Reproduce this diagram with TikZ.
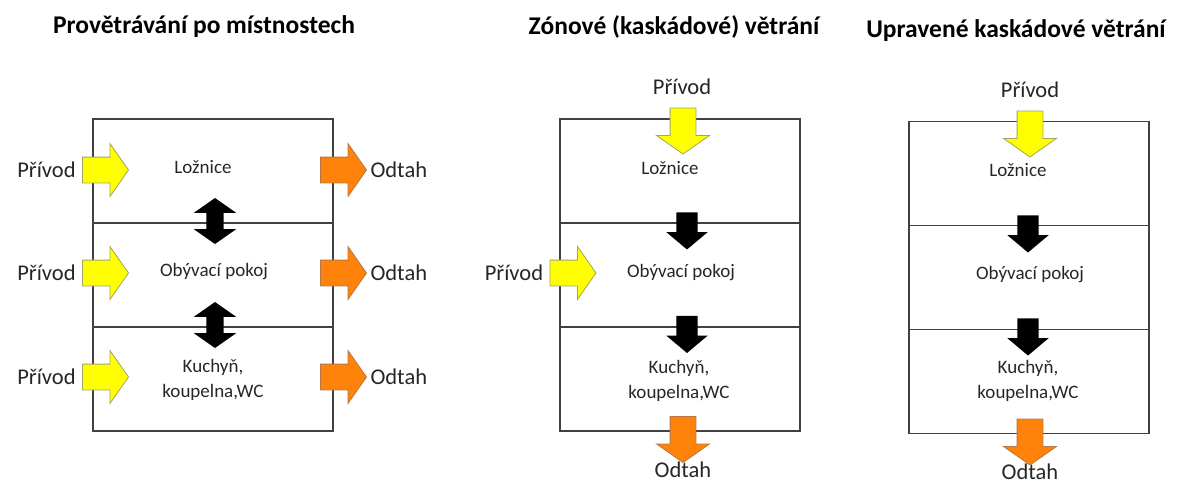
\documentclass[tikz,border=0pt]{standalone}
\usepackage{fontspec}
\setmainfont{Carlito}
\usetikzlibrary{shapes.arrows, positioning}

\definecolor{fresh}{RGB}{255,255,0}
\definecolor{freshline}{RGB}{160,165,100}
\definecolor{waste}{RGB}{255,130,10}
\definecolor{wasteline}{RGB}{180,120,70}
\definecolor{wall}{RGB}{65,65,65}

\tikzset{
  room/.style = {draw=wall, line width=1.5pt, minimum width=240pt,
    minimum height=104pt, inner sep=0pt, outer sep=0pt},
  roomtext/.style = {font=\fontsize{19}{25}\selectfont, align=center, text=black!85},
  airtext/.style = {font=\fontsize{22.5}{26}\selectfont, text=black!85},
  title/.style = {font=\bfseries\fontsize{25.5}{30}\selectfont},
  flow/.style = {single arrow, inner sep=0pt, text height=25pt, text depth=0pt,
    single arrow head extend=13.5pt, single arrow tip angle=110,
    minimum height=46pt, line width=0.8pt},
  inflow/.style = {flow, fill=fresh, draw=freshline},
  outflow/.style = {flow, fill=waste, draw=wasteline},
  pass/.style = {single arrow, fill=black, inner sep=0pt, text height=21pt,
    text depth=0pt, single arrow head extend=10pt, single arrow tip angle=100,
    minimum height=37pt, rotate=-90},
  swap/.style = {double arrow, fill=black, inner sep=0pt, text height=17pt,
    text depth=0pt, double arrow head extend=12.5pt, double arrow tip angle=110,
    minimum height=46pt, rotate=90}
}

\begin{document}
\begin{tikzpicture} [x=1pt, y=-1pt]
\useasboundingbox (0,0) rectangle (1179,483);

% Provetravani po mistnostech
\node (t1) [title] at (204,27) {Provětrávání po místnostech};

\node (l1) [room] at (213,171) {};
\node (l2) [room, below = 0pt of l1] {};
\node (l3) [room, below = 0pt of l2] {};

\node (lt1) [roomtext] at (203,167) {Ložnice};
\node (lt2) [roomtext] at (214,272) {Obývací pokoj};
\node (lt3) [roomtext] at (213,380) {Kuchyň,\\koupelna,WC};

\node (li1) [inflow] at (101,170) {};
\node (li2) [inflow] at (101,273) {};
\node (li3) [inflow] at (101,377) {};
\node (lp1) [airtext, left = 3pt of li1] {Přívod};
\node (lp2) [airtext, left = 3pt of li2] {Přívod};
\node (lp3) [airtext, left = 3pt of li3] {Přívod};

\node (lo1) [outflow] at (339,170) {};
\node (lo2) [outflow] at (339,273) {};
\node (lo3) [outflow] at (339,377) {};
\node (lx1) [airtext, right = 0pt of lo1] {Odtah};
\node (lx2) [airtext, right = 0pt of lo2] {Odtah};
\node (lx3) [airtext, right = 0pt of lo3] {Odtah};

\node (ls1) [swap] at (215,221) {};
\node (ls2) [swap] at (215,325) {};

% Zonove (kaskadove) vetrani
\node (t2) [title] at (674,27) {Zónové (kaskádové) větrání};

\node (m1) [room] at (680,171) {};
\node (m2) [room, below = 0pt of m1] {};
\node (m3) [room, below = 0pt of m2] {};

\node (mt1) [roomtext] at (670,168) {Ložnice};
\node (mt2) [roomtext] at (681,273) {Obývací pokoj};
\node (mt3) [roomtext] at (679,381) {Kuchyň,\\koupelna,WC};

\node (mp0) [airtext] at (682,87) {Přívod};
\node (mi0) [inflow, rotate=-90] at (683,126.5) {};
\node (mi2) [inflow] at (568.5,273) {};
\node (mp2) [airtext, left = 3pt of mi2] {Přívod};

\node (ms1) [pass] at (687,226.5) {};
\node (ms2) [pass] at (687,330) {};

\node (mo3) [outflow, rotate=-90] at (683,435) {};
\node (mx3) [airtext] at (683,470) {Odtah};

% Upravene kaskadove vetrani
\node (t3) [title] at (1016,31) {Upravené kaskádové větrání};

\node (r1) [room] at (1029,173.5) {};
\node (r2) [room, below = 0pt of r1] {};
\node (r3) [room, below = 0pt of r2] {};

\node (rt1) [roomtext] at (1018,170) {Ložnice};
\node (rt2) [roomtext] at (1030,275) {Obývací pokoj};
\node (rt3) [roomtext] at (1028,381) {Kuchyň,\\koupelna,WC};

\node (rp0) [airtext] at (1030,90) {Přívod};
\node (ri0) [inflow, rotate=-90] at (1030,129.5) {};

\node (rs1) [pass] at (1028,229.5) {};
\node (rs2) [pass] at (1028,332.5) {};

\node (ro3) [outflow, rotate=-90] at (1030,437.5) {};
\node (rx3) [airtext] at (1030,472) {Odtah};

\end{tikzpicture}
\end{document}
